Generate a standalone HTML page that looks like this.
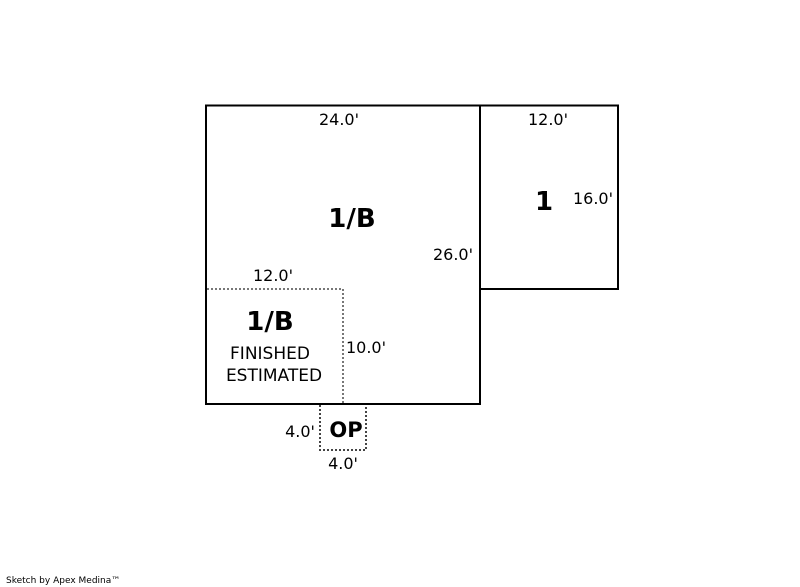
<html><body style="margin:0;background:#fff">
<svg width="800" height="587" xmlns="http://www.w3.org/2000/svg" style="display:block;font-family:'DejaVu Sans',Verdana,sans-serif">
<rect x="206" y="105.5" width="274" height="298.5" fill="none" stroke="#000" stroke-width="2"/>
<rect x="480" y="105.5" width="138" height="183.5" fill="none" stroke="#000" stroke-width="2"/>
<path d="M207 289 H343 V403" fill="none" stroke="#777" stroke-width="2" stroke-dasharray="2,2"/>
<path d="M320 405 V450 H366 V405" fill="none" stroke="#444" stroke-width="2" stroke-dasharray="2,2"/>
<g font-size="16" fill="#000" text-anchor="middle">
<text x="339" y="125">24.0'</text>
<text x="548" y="125">12.0'</text>
<text x="593" y="204">16.0'</text>
<text x="453" y="260">26.0'</text>
<text x="273" y="281">12.0'</text>
<text x="366" y="353">10.0'</text>
<text x="300" y="437">4.0'</text>
<text x="343" y="469">4.0'</text>
<text x="270" y="359" font-size="17">FINISHED</text>
<text x="274" y="381" font-size="17">ESTIMATED</text>
</g>
<g font-size="26" font-weight="bold" text-anchor="middle">
<text x="352" y="227">1/B</text>
<text x="544" y="210">1</text>
<text x="270" y="330">1/B</text>
<text x="346" y="437" font-size="21">OP</text>
</g>
<text x="6" y="583" font-size="9">Sketch by Apex Medina™</text>
</svg>
</body></html>
